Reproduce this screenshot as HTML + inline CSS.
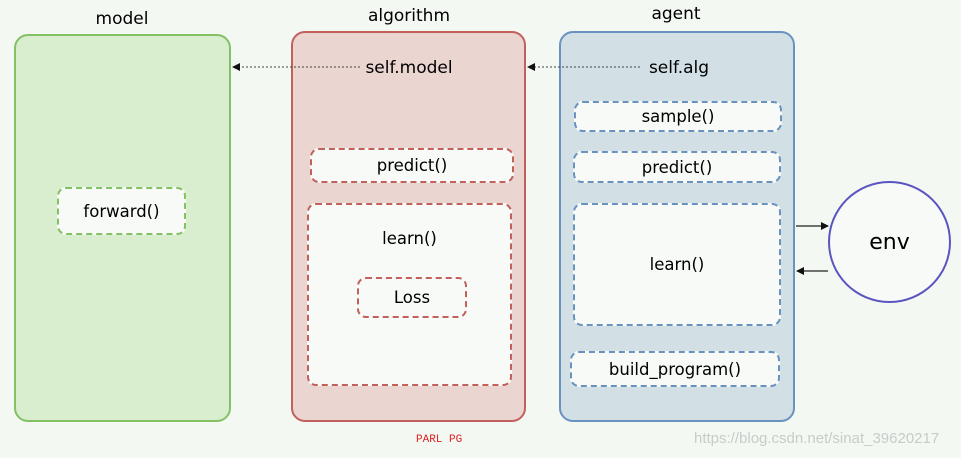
<!DOCTYPE html>
<html><head><meta charset="utf-8"><style>
body{margin:0;width:961px;height:458px;background:#f4f8f3;position:relative;overflow:hidden;font-family:"DejaVu Sans","Liberation Sans",sans-serif;color:#111}
.a{position:absolute;box-sizing:border-box}
.t{position:absolute;font-size:17px;transform:translateX(-50%);white-space:nowrap;color:#000}
.d{position:absolute;box-sizing:border-box;border-radius:9px;background:#f7faf6;display:flex;align-items:center;justify-content:center;font-size:16.5px;color:#000}
</style></head><body>
<div class="t" style="left:122px;top:9px">model</div>
<div class="t" style="left:409px;top:6px">algorithm</div>
<div class="t" style="left:676px;top:4px">agent</div>

<div class="a" style="left:14px;top:34px;width:217px;height:388px;background:#d9edcf;border:2px solid #84c064;border-radius:14px"></div>
<div class="a" style="left:291px;top:31px;width:235px;height:391px;background:#ead5d1;border:2px solid #c2605c;border-radius:14px"></div>
<div class="a" style="left:559px;top:31px;width:236px;height:391px;background:#d2e0e6;border:2px solid #6a92c0;border-radius:14px"></div>

<div class="d" style="left:57px;top:187px;width:129px;height:48px;border:2px dashed #84c064">forward()</div>

<div class="t" style="left:409px;top:58px">self.model</div>
<div class="d" style="left:310px;top:148px;width:204px;height:35px;border:2px dashed #c2605c">predict()</div>
<div class="d" style="left:307px;top:203px;width:205px;height:183px;border:2px dashed #c2605c;align-items:flex-start;padding-top:24px">learn()</div>
<div class="d" style="left:357px;top:277px;width:110px;height:41px;border:2px dashed #c2605c">Loss</div>

<div class="t" style="left:679px;top:58px">self.alg</div>
<div class="d" style="left:574px;top:101px;width:208px;height:31px;border:2px dashed #6a92c0">sample()</div>
<div class="d" style="left:573px;top:151px;width:208px;height:32px;border:2px dashed #6a92c0">predict()</div>
<div class="d" style="left:573px;top:203px;width:208px;height:123px;border:2px dashed #6a92c0">learn()</div>
<div class="d" style="left:570px;top:351px;width:210px;height:36px;border:2px dashed #6a92c0">build_program()</div>

<div class="a" style="left:828px;top:181px;width:123px;height:122px;border:2.5px solid #5a55c0;border-radius:50%;background:#f7faf6;display:flex;align-items:center;justify-content:center;font-size:22px;color:#000">env</div>

<svg class="a" style="left:0;top:0" width="961" height="458">
<defs><marker id="m" markerWidth="8" markerHeight="8" refX="7" refY="4" orient="auto" markerUnits="userSpaceOnUse"><path d="M0,0L8,4L0,8z" fill="#111"/></marker></defs>
<line x1="360" y1="67" x2="233" y2="67" stroke="#444" stroke-width="1" stroke-dasharray="2,2" marker-end="url(#m)"/>
<line x1="640" y1="67" x2="528" y2="67" stroke="#444" stroke-width="1" stroke-dasharray="2,2" marker-end="url(#m)"/>
<line x1="796" y1="226" x2="828" y2="226" stroke="#222" stroke-width="1.2" marker-end="url(#m)"/>
<line x1="828" y1="271" x2="797" y2="271" stroke="#222" stroke-width="1.2" marker-end="url(#m)"/>
</svg>

<div class="a" style="left:416px;top:434px;font-family:'Liberation Mono',monospace;font-size:11px;color:#d22">PARL PG</div>
<div class="a" style="left:694px;top:430px;font-family:'Liberation Sans',sans-serif;font-size:15px;color:#c8ccc8">https://blog.csdn.net/sinat_39620217</div>
</body></html>
